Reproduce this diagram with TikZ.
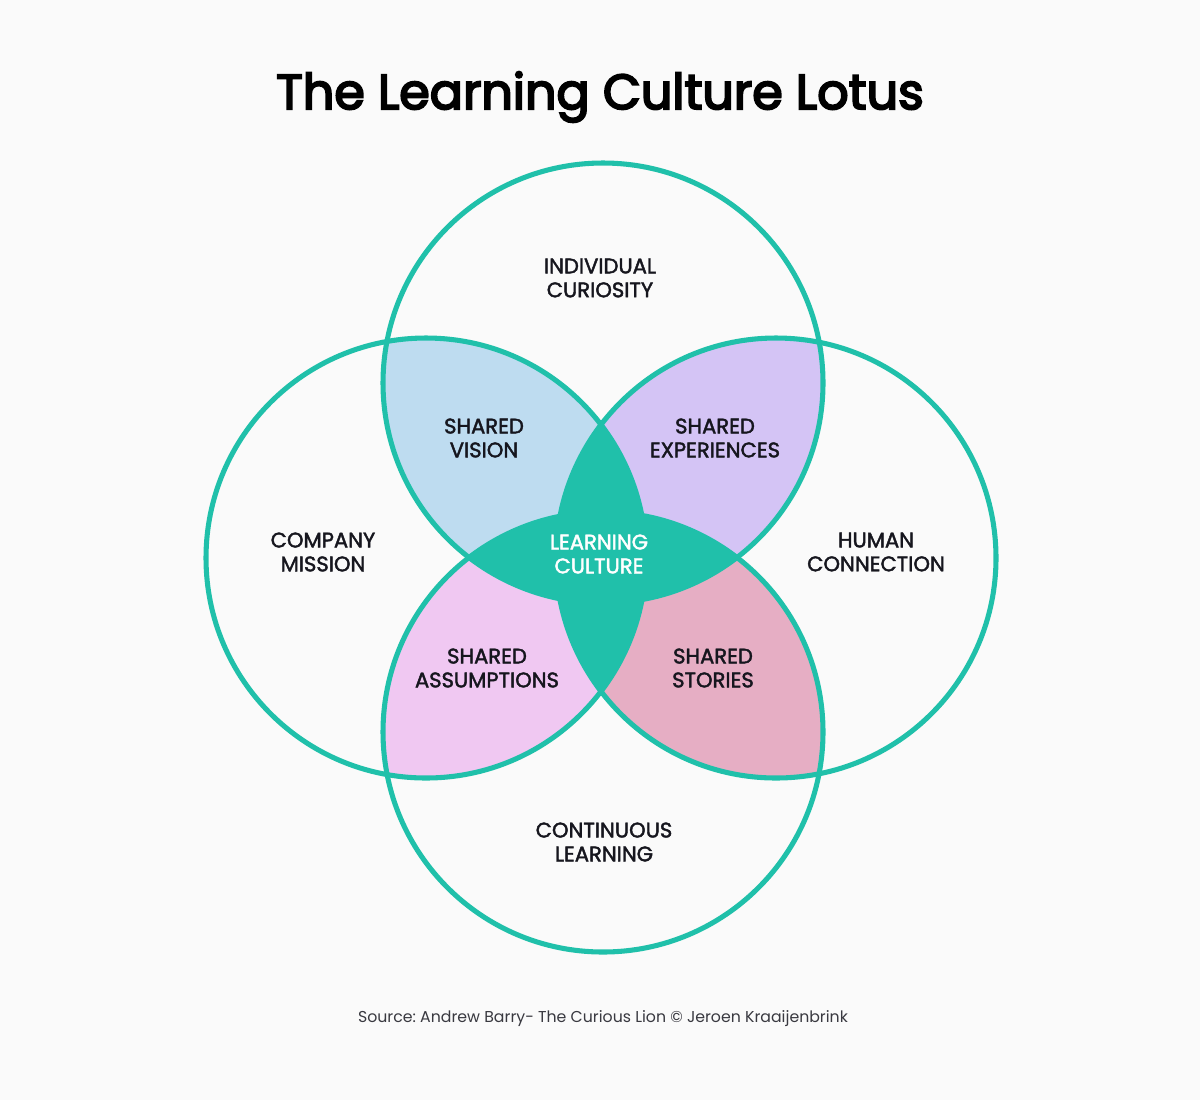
\documentclass[tikz,border=0pt]{standalone}
\usepackage{fontspec}
\setmainfont{Poppins}
\newfontfamily\lotuslabelfont[FakeBold=2]{Poppins}
\newfontfamily\lotustitlefont[FakeBold=4]{Poppins}
\usepackage{tikz}
\usetikzlibrary{positioning}
\frenchspacing

\begin{document}
\begin{tikzpicture}[x=0.025cm, y=-0.025cm]
  % Define colors
  \definecolor{lotusteal}{RGB}{32,192,170}
  \definecolor{lotusback}{RGB}{250,250,250}
  \definecolor{visionblue}{RGB}{190,220,240}
  \definecolor{experiencelilac}{RGB}{212,196,245}
  \definecolor{assumptionpink}{RGB}{240,200,242}
  \definecolor{storyrose}{RGB}{230,174,196}
  \definecolor{lotusink}{RGB}{22,22,30}

  % Page
  \fill[lotusback] (0,0) rectangle (1200,1100);
  \useasboundingbox (0,0) rectangle (1200,1100);

  % Circle centres
  \coordinate (ctop) at (603,383);
  \coordinate (cleft) at (426,558);
  \coordinate (cright) at (776,558);
  \coordinate (cbottom) at (603,732);

  % Petals
  \begin{scope}
    \clip (ctop) circle[radius=220];
    \fill[visionblue] (cleft) circle[radius=220];
    \fill[experiencelilac] (cright) circle[radius=220];
  \end{scope}
  \begin{scope}
    \clip (cbottom) circle[radius=220];
    \fill[assumptionpink] (cleft) circle[radius=220];
    \fill[storyrose] (cright) circle[radius=220];
  \end{scope}

  % Centre
  \begin{scope}
    \clip (cleft) circle[radius=220];
    \fill[lotusteal] (cright) circle[radius=220];
  \end{scope}
  \begin{scope}
    \clip (ctop) circle[radius=220];
    \fill[lotusteal] (cbottom) circle[radius=220];
  \end{scope}

  % Outlines
  \draw[lotusteal, line width=3.6pt] (ctop) circle[radius=220];
  \draw[lotusteal, line width=3.6pt] (cleft) circle[radius=220];
  \draw[lotusteal, line width=3.6pt] (cright) circle[radius=220];
  \draw[lotusteal, line width=3.6pt] (cbottom) circle[radius=220];

  % Title
  \node[font=\lotustitlefont\fontsize{35}{40}\selectfont, text=black] (title) at (600,97) {The Learning Culture Lotus};

  % Outer labels
  \node[align=center, font=\lotuslabelfont\fontsize{15}{17}\selectfont, text=lotusink] (curiosity) at (600,278) {INDIVIDUAL\\CURIOSITY};
  \node[align=center, font=\lotuslabelfont\fontsize{15}{17}\selectfont, text=lotusink] (mission) at (323,552) {COMPANY\\MISSION};
  \node[align=center, font=\lotuslabelfont\fontsize{15}{17}\selectfont, text=lotusink] (connection) at (876,552) {HUMAN\\CONNECTION};
  \node[align=center, font=\lotuslabelfont\fontsize{15}{17}\selectfont, text=lotusink] (continuous) at (604,842) {CONTINUOUS\\LEARNING};

  % Petal labels
  \node[align=center, font=\lotuslabelfont\fontsize{15}{17}\selectfont, text=lotusink] (vision) at (484,438) {SHARED\\VISION};
  \node[align=center, font=\lotuslabelfont\fontsize{15}{17}\selectfont, text=lotusink] (experiences) at (715,438) {SHARED\\EXPERIENCES};
  \node[align=center, font=\lotuslabelfont\fontsize{15}{17}\selectfont, text=lotusink] (assumptions) at (487,668) {SHARED\\ASSUMPTIONS};
  \node[align=center, font=\lotuslabelfont\fontsize{15}{17}\selectfont, text=lotusink] (stories) at (713,668) {SHARED\\STORIES};

  % Centre label
  \node[align=center, font=\lotuslabelfont\fontsize{15}{17}\selectfont, text=white] (culture) at (599,554) {LEARNING\\CULTURE};

  % Source line
  \node[font=\fontsize{11.2}{13}\selectfont, text=lotusink!85] (source) at (603,1019) {Source: Andrew Barry- The Curious Lion © Jeroen Kraaijenbrink};
\end{tikzpicture}
\end{document}
